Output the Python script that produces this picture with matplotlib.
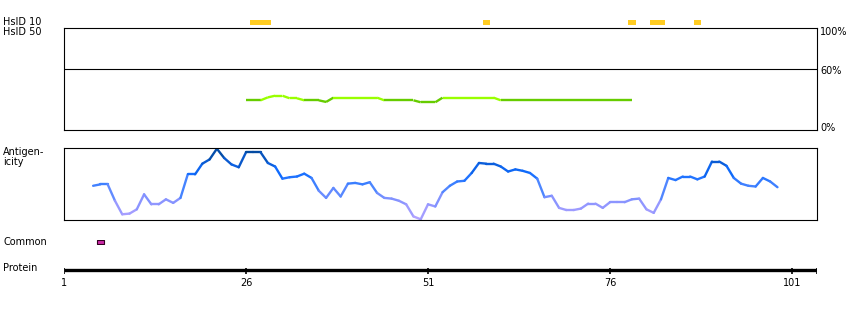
import matplotlib
matplotlib.use("Agg")
import matplotlib.pyplot as plt
import numpy as np
from matplotlib.collections import LineCollection
from matplotlib.colors import LinearSegmentedColormap

# ---- data ----
seq_len = 104.43                     # right end of protein ruler (residues)
tick_res = [1, 26, 51, 76, 101]

hsid10_res = [27, 28, 29, 59, 79, 82, 83, 88]
common_res = [6]

hsid50_start = 26
hsid50_pct = [29.1, 29.1, 29.1, 32.0, 33.6, 33.6, 31.1, 31.1, 29.1, 29.1,
              29.1, 27.5, 31.7, 31.7, 31.7, 31.7, 31.7, 31.7, 31.7, 29.1,
              29.1, 29.1, 29.1, 29.1, 27.2, 27.2, 27.2, 31.7, 31.7, 31.7,
              31.7, 31.7, 31.7, 31.7, 31.7, 29.1, 29.1, 29.1, 29.1, 29.1,
              29.1, 29.1, 29.1, 29.1, 29.1, 29.1, 29.1, 29.1, 29.1, 29.1,
              29.1, 29.1, 29.1, 29.1]
pct_labels = ['100%', '60%', '0%']
pct_levels = [100, 60, 0]

antigen_start = 5
antigen = [0.47, 0.49, 0.49, 0.26, 0.07, 0.08, 0.14, 0.35, 0.21, 0.21,
           0.28, 0.23, 0.30, 0.63, 0.63, 0.78, 0.84, 0.99, 0.86, 0.77,
           0.73, 0.94, 0.94, 0.94, 0.79, 0.74, 0.57, 0.59, 0.60, 0.64,
           0.58, 0.40, 0.30, 0.44, 0.32, 0.50, 0.51, 0.49, 0.52, 0.37,
           0.30, 0.29, 0.26, 0.21, 0.04, 0.00, 0.21, 0.18, 0.38, 0.47,
           0.53, 0.54, 0.65, 0.79, 0.78, 0.78, 0.74, 0.67, 0.70, 0.68,
           0.65, 0.57, 0.31, 0.33, 0.16, 0.13, 0.13, 0.15, 0.22, 0.22,
           0.16, 0.24, 0.24, 0.24, 0.28, 0.29, 0.14, 0.09, 0.28, 0.58,
           0.55, 0.60, 0.60, 0.56, 0.60, 0.81, 0.81, 0.75, 0.58, 0.50,
           0.47, 0.46, 0.58, 0.53, 0.45]

W, H = 850, 310
fig = plt.figure(figsize=(W / 100, H / 100), dpi=100)
plt.rcParams['font.family'] = ['DejaVu Sans']
FS = 7


def px_axes(x0, y0, x1, y1):
    # axes placed by pixel box (top-left origin)
    return fig.add_axes([x0 / W, 1 - y1 / H, (x1 - x0) / W, (y1 - y0) / H])


X0, X1 = 64, 817

# HsID 10 bars
ax = px_axes(X0, 20, X1, 25)
ax.set_xlim(1, seq_len)
ax.set_ylim(0, 1)
ax.broken_barh([(r - 0.5, 1) for r in hsid10_res], (0, 1), facecolors='#ffcc22')
ax.axis('off')

# HsID 50 panel
ax = px_axes(X0, 28, X1, 130)
ax.set_xlim(1, seq_len)
ax.set_ylim(0, 100)
ax.set_xticks([])
ax.set_yticks([])
for s in ax.spines.values():
    s.set_linewidth(0.8)
ax.axhline(60, color='black', lw=0.8)
xr = np.arange(hsid50_start, hsid50_start + len(hsid50_pct))
yv = np.array(hsid50_pct)
segs = [[(xr[i], yv[i]), (xr[i + 1], yv[i + 1])] for i in range(len(xr) - 1)]
cols = ['#99ff00' if (yv[i] + yv[i + 1]) / 2 >= 30 else '#66cc00' for i in range(len(xr) - 1)]
ax.add_collection(LineCollection(segs, colors=cols, linewidths=1.7, capstyle='butt'))
# right-hand percent labels, nudged inside the box ends like the original
nudge = {100: 4, 60: 2, 0: -2}
for lab, lev in zip(pct_labels, pct_levels):
    ypx = 130 - lev / 100 * 102 + nudge[lev]
    fig.text(820 / W, 1 - ypx / H, lab, fontsize=FS, ha='left', va='center')

# Antigenicity panel
ax = px_axes(X0, 148, X1, 220)
ax.set_xlim(1, seq_len)
ax.set_ylim(-0.01, 1.0)
ax.set_xticks([])
ax.set_yticks([])
for s in ax.spines.values():
    s.set_linewidth(0.8)
cmap = LinearSegmentedColormap.from_list('ag', [
    (0.0, '#b4a4ff'), (0.25, '#8a94ff'), (0.45, '#4a85ff'),
    (0.65, '#106cff'), (0.82, '#0a5ad0'), (1.0, '#00448c')])
xr = np.arange(antigen_start, antigen_start + len(antigen))
yv = np.array(antigen)
segs = [[(xr[i], yv[i]), (xr[i + 1], yv[i + 1])] for i in range(len(xr) - 1)]
cols = [cmap((yv[i] + yv[i + 1]) / 2) for i in range(len(xr) - 1)]
ax.add_collection(LineCollection(segs, colors=cols, linewidths=1.7, capstyle='round'))

# Common
ax = px_axes(X0, 240, X1, 244)
ax.set_xlim(1, seq_len)
ax.set_ylim(0, 1)
ax.broken_barh([(r - 0.5, 1) for r in common_res], (0, 1),
               facecolors='#cc2aa8', edgecolors='#330022', linewidth=0.8)
ax.axis('off')

# Protein ruler (y in pixels)
ax = px_axes(X0, 262, X1, 292)
ax.set_xlim(1, seq_len)
ax.set_ylim(292, 262)
ax.axis('off')
ax.hlines(269.5, 1, seq_len, color='black', lw=2.4)
ax.vlines(tick_res + [seq_len], 268, 274, color='black', lw=1.2)
for r in tick_res:
    ax.text(r, 283, str(r), ha='center', va='center', fontsize=FS, clip_on=False)

# left labels
for txt, yy in [('HsID 10', 22), ('HsID 50', 32), ('Antigen-', 152),
                ('icity', 162), ('Common', 242), ('Protein', 268)]:
    fig.text(3 / W, 1 - yy / H, txt, fontsize=FS, ha='left', va='center')

fig.savefig('out.png', dpi=100)
plt.close('all')
